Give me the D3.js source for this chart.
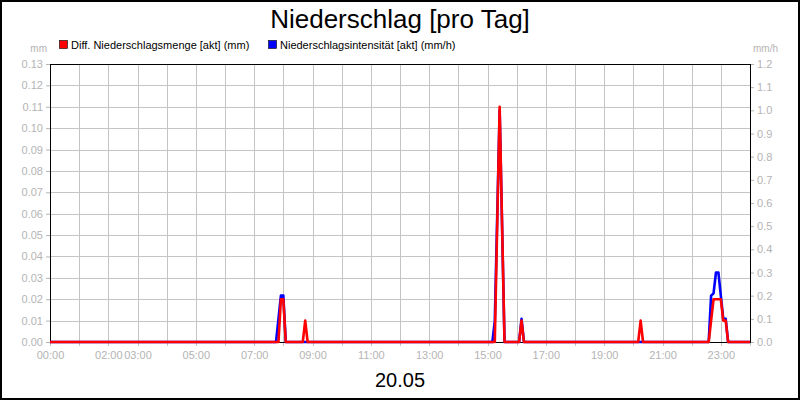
<!DOCTYPE html>
<html>
<head>
<meta charset="utf-8">
<script src="https://cdn.jsdelivr.net/npm/d3@7"></script>
<style>
  body { margin: 0; background: #fff; }
  svg { display: block; font-family: "Liberation Sans", Arial, sans-serif; }
</style>
</head>
<body>
<div class="chart"></div>
<script>
// Niederschlag, 20.05 - red on left axis (mm), blue on right axis (mm/h)
var xLabels = ["00:00","02:00","03:00","05:00","07:00","09:00","11:00","13:00","15:00","17:00","19:00","21:00","23:00"];
var leftTicks = [0, 0.01, 0.02, 0.03, 0.04, 0.05, 0.06, 0.07, 0.08, 0.09, 0.10, 0.11, 0.12, 0.13];
var rightTicks = [0, 0.1, 0.2, 0.3, 0.4, 0.5, 0.6, 0.7, 0.8, 0.9, 1.0, 1.1, 1.2];

var mengeTimes = ["00:00","07:50","07:55","08:00","08:05","08:40","08:45","08:50","15:15","15:25","15:35",
                  "16:05","16:10","16:15","20:10","20:15","20:20","22:35","22:40","22:45","22:50","22:55",
                  "23:00","23:05","23:10","23:15","24:00"];
var mengeValues = [0, 0, 0.02, 0.02, 0, 0, 0.01, 0, 0, 0.11, 0,
                   0, 0.01, 0, 0, 0.01, 0, 0, 0.01, 0.02, 0.02, 0.02,
                   0.02, 0.01, 0.01, 0, 0];

var intensTimes = ["00:00","07:45","07:55","08:00","08:05","15:10","15:15","15:25","15:35",
                   "16:05","16:10","16:15","22:35","22:40","22:45","22:50","22:55","23:05","23:10","23:15","24:00"];
var intensValues = [0, 0, 0.2, 0.2, 0, 0, 0.09, 1.0, 0,
                    0, 0.1, 0, 0, 0.2, 0.21, 0.3, 0.3, 0.1, 0.1, 0, 0];

function hours(s) {
    var p = s.split(":");
    return +p[0] + (+p[1]) / 60;
}

var W = 800, H = 400;
var margin = {top: 64, right: 50, bottom: 58, left: 50},
    width = W - margin.left - margin.right,
    height = H - margin.top - margin.bottom;

var x = d3.scaleLinear().domain([0, 24]).range([0, width]);
var yL = d3.scaleLinear().domain([0, 0.13]).range([height, 0]);
var yR = d3.scaleLinear().domain([0, 1.2]).range([height, 0]);

var grey = "#b4b4b4";
var gridCol = "#c4c4c4";

var svg = d3.select(".chart").append("svg")
    .attr("width", W).attr("height", H);

svg.append("rect")
    .attr("x", 1).attr("y", 1).attr("width", W - 2).attr("height", H - 2)
    .attr("fill", "#fff").attr("stroke", "#000").attr("stroke-width", 2);

svg.append("text")
    .attr("x", W / 2).attr("y", 28)
    .attr("text-anchor", "middle")
    .style("font-size", "26px")
    .text("Niederschlag [pro Tag]");

// legend
var legend = [
    {label: "Diff. Niederschlagsmenge [akt] (mm)", color: "#ff0000", x: 59},
    {label: "Niederschlagsintensit\u00e4t [akt] (mm/h)", color: "#0000ff", x: 268}
];
var lg = svg.selectAll(".leg").data(legend).enter().append("g")
    .attr("transform", function(d) { return "translate(" + d.x + ",40)"; });
lg.append("rect")
    .attr("x", 0.5).attr("y", 0.5).attr("width", 8).attr("height", 8)
    .attr("fill", function(d) { return d.color; })
    .attr("stroke", "#000").attr("stroke-width", 0.6);
lg.append("text")
    .attr("x", 12).attr("y", 8.5)
    .style("font-size", "11px")
    .text(function(d) { return d.label; });

svg.append("text").attr("x", 47).attr("y", 52)
    .attr("text-anchor", "end").attr("fill", grey).style("font-size", "10px").text("mm");
svg.append("text").attr("x", 753).attr("y", 52)
    .attr("fill", grey).style("font-size", "10px").text("mm/h");

var g = svg.append("g")
    .attr("transform", "translate(" + margin.left + "," + margin.top + ")");

// grid
g.selectAll(".hgrid").data(leftTicks).enter().append("line")
    .attr("x1", 0).attr("x2", width)
    .attr("y1", function(d) { return Math.round(yL(d)) + 0.5; })
    .attr("y2", function(d) { return Math.round(yL(d)) + 0.5; })
    .attr("stroke", gridCol);
g.selectAll(".vgrid").data(d3.range(0, 25)).enter().append("line")
    .attr("x1", function(d) { return Math.round(x(d)) + 0.5; })
    .attr("x2", function(d) { return Math.round(x(d)) + 0.5; })
    .attr("y1", 0).attr("y2", height + 4)
    .attr("stroke", gridCol);

// axes
var leftAxis = d3.axisLeft(yL).tickValues(leftTicks).tickSize(4).tickPadding(3)
    .tickFormat(d3.format(".2f"));
var rightAxis = d3.axisRight(yR).tickValues(rightTicks).tickSize(4).tickPadding(3)
    .tickFormat(d3.format(".1f"));
var bottomAxis = d3.axisBottom(x)
    .tickValues(xLabels.map(hours)).tickSize(0).tickPadding(9)
    .tickFormat(function(d, i) { return xLabels[i]; });

function styleAxis(sel) {
    sel.select(".domain").remove();
    sel.selectAll("line").attr("stroke", grey);
    sel.selectAll("text").attr("fill", grey).style("font-size", "11px")
        .style("font-family", "'Liberation Sans', Arial, sans-serif");
}
g.append("g").call(leftAxis).call(styleAxis);
g.append("g").attr("transform", "translate(" + width + ",0)").call(rightAxis).call(styleAxis);
g.append("g").attr("transform", "translate(0," + height + ")").call(bottomAxis).call(styleAxis);

// frame
g.append("rect")
    .attr("x", 0.5).attr("y", 0.5).attr("width", width).attr("height", height)
    .attr("fill", "none").attr("stroke", "#000");

// series
var intensData = intensTimes.map(function(t, i) { return {t: hours(t), v: intensValues[i]}; });
var mengeData = mengeTimes.map(function(t, i) { return {t: hours(t), v: mengeValues[i]}; });

g.append("path").datum(intensData)
    .attr("fill", "none").attr("stroke", "#0000ff").attr("stroke-width", 2.6)
    .attr("stroke-linejoin", "round")
    .attr("d", d3.line().x(function(d) { return x(d.t); }).y(function(d) { return yR(d.v); }));
g.append("path").datum(mengeData)
    .attr("fill", "none").attr("stroke", "#ff0000").attr("stroke-width", 2.6)
    .attr("stroke-linejoin", "round")
    .attr("d", d3.line().x(function(d) { return x(d.t); }).y(function(d) { return yL(d.v); }));

svg.append("text")
    .attr("x", W / 2).attr("y", 387)
    .attr("text-anchor", "middle")
    .style("font-size", "20px")
    .text("20.05");
</script>
</body>
</html>
